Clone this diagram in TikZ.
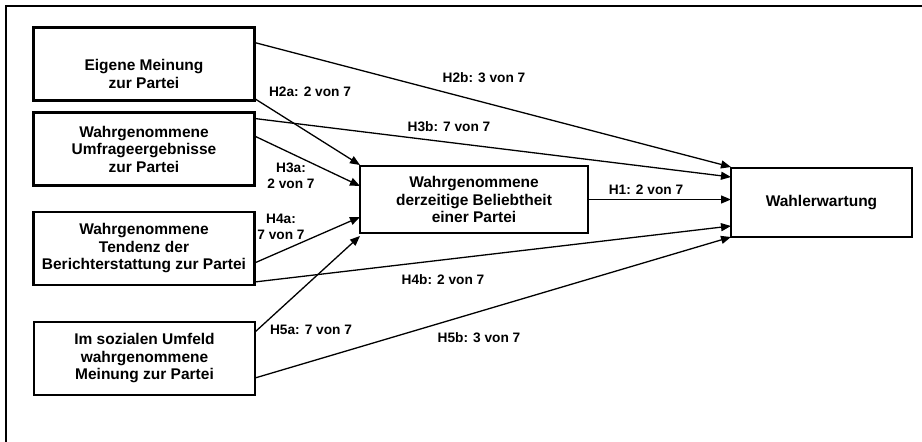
\documentclass[tikz,border=0pt]{standalone}
\usepackage{fontspec}
\setmainfont{Liberation Sans}
\usetikzlibrary{arrows.meta}
\tikzset{
  boxtext/.style={font=\bfseries\fontsize{15.5}{17.5}\selectfont, align=center},
  box/.style={draw, line width=2.8pt, outer sep=0pt, inner sep=0pt, minimum width=221pt, minimum height=73pt, boxtext},
  lbl/.style={font=\bfseries\fontsize{13.7}{16}\selectfont, align=center, inner sep=0pt},
  conn/.style={line width=1.3pt, -{Triangle[length=10pt,width=8pt]}, shorten >=0pt},
  frame/.style={line width=1.5pt}
}
\begin{document}
\begin{tikzpicture}[x=1pt,y=-1pt]
\useasboundingbox (0,0) rectangle (922,442);
\coordinate (fbl) at (6,442);
\coordinate (ftl) at (6,6);
\coordinate (ftr) at (922,6);
\draw[frame] (fbl) -- (ftl) -- (ftr);

\node[box, label={[boxtext, yshift=-10pt]center:{Eigene Meinung\\zur Partei}}] (b1) at (144,64) {};
\node[box] (b2) at (144,149) {Wahrgenommene\\Umfrageergebnisse\\zur Partei};
\node[box] (b3) at (144,248.5) {Wahrgenommene\\Tendenz der\\Berichterstattung zur Partei};
\node[box] (b4) at (144.5,358.5) {Im sozialen Umfeld\\wahrgenommene\\Meinung zur Partei};
\node[box, minimum width=228pt, minimum height=67pt] (c) at (474,199.5) {Wahrgenommene\\derzeitige Beliebtheit\\einer Partei};
\node[box, minimum width=181pt, minimum height=69pt] (w) at (821.5,202.5) {Wahlerwartung};

% to Wahlerwartung
\draw[conn] ([yshift=-15pt]b1.north east) -- ([yshift=1pt]w.north west);
\draw[conn] ([yshift=-6pt]b2.north east) -- ([yshift=-9pt]w.north west);
\draw[conn] (c.east) -- (c.east -| w.west);
\draw[conn] ([yshift=3pt]b3.south east) -- ([yshift=11pt]w.south west);
\draw[conn] ([yshift=17pt]b4.south east) -- (w.south west);
% to center box
\draw[conn] ([yshift=2pt]b1.south east) -- ([yshift=1pt]c.north west);
\draw[conn] ([yshift=13pt]b2.east) -- ([yshift=-20pt]c.north west);
\draw[conn] ([yshift=22pt]b3.south east) -- ([yshift=16pt]c.south west);
\draw[conn] ([yshift=-10pt]b4.north east) -- ([yshift=-3pt]c.south west);

\node[lbl] (l2a) at (310,92) {H2a: 2 von 7};
\node[lbl] (l2b) at (484,78) {H2b: 3 von 7};
\node[lbl] (l3b) at (449,127) {H3b: 7 von 7};
\node[lbl] (l3a) at (291,176) {H3a:\\2 von 7};
\node[lbl] (l4a) at (281,227) {H4a:\\7 von 7};
\node[lbl] (l1) at (646,190) {H1: 2 von 7};
\node[lbl] (l4b) at (443,280) {H4b: 2 von 7};
\node[lbl] (l5a) at (311,330) {H5a: 7 von 7};
\node[lbl] (l5b) at (479,338) {H5b: 3 von 7};
\end{tikzpicture}
\end{document}
